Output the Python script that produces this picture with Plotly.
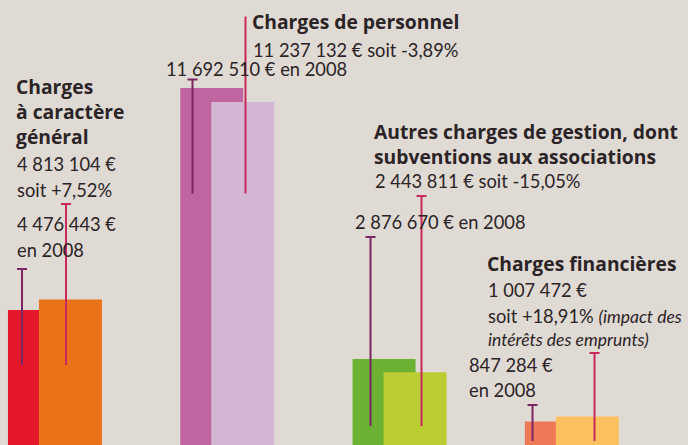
import plotly.graph_objects as go

# ---------------- data ----------------
categories = [
    "Charges à caractère général",
    "Charges de personnel",
    "Autres charges de gestion, dont subventions aux associations",
    "Charges financières",
]
values_2008 = [4476443, 11692510, 2876670, 847284]
values_2009 = [4813104, 11237132, 2443811, 1007472]
variations = ["+7,52%", "-3,89%", "-15,05%", "+18,91%"]

# ---------------- styles ----------------
W, H = 688, 445
BG = "#e0dad4"
TXT = "#2b2427"
colors_2008 = ["#e4172b", "#c0659f", "#6bb232", "#ee7957"]
colors_2009 = ["#ea7219", "#d3b6d4", "#bccd33", "#fcc15e"]
PURPLE = "#7b2563"
CRIMSON = "#c8285c"
FONT = "Lato"
BOLD_FONT = "Open Sans"


def eur(v):
    return f"{v:,}".replace(",", " ") + " €"


fig = go.Figure()
idx = list(range(len(categories)))
fig.add_trace(go.Bar(x=idx, y=values_2008, width=0.3656, offset=-0.2728,
                     marker=dict(color=colors_2008, line=dict(width=0)),
                     name="2008", hoverinfo="skip"))
fig.add_trace(go.Bar(x=idx, y=values_2009, width=0.3656, offset=-0.0929,
                     marker=dict(color=colors_2009, line=dict(width=0)),
                     name="2009", hoverinfo="skip"))


def px(x):
    return x / W


def py(y):
    return 1 - y / H


# leader lines: (x px, top px, bottom px, color, cap)
leaders = [
    (22, 269, 365, PURPLE, True), (66, 204, 365, CRIMSON, True),
    (192.5, 79.5, 193.5, PURPLE, True), (245.5, 16.5, 193.5, CRIMSON, False),
    (370.5, 237, 426, PURPLE, True), (421.5, 196, 426, CRIMSON, True),
    (532.5, 405, 441, PURPLE, True), (594.5, 353, 441, CRIMSON, True),
]
shapes = []
for x, t, b, c, cap in leaders:
    shapes.append(dict(type="line", xref="paper", yref="paper",
                       x0=px(x), x1=px(x), y0=py(t), y1=py(b),
                       line=dict(color=c, width=2)))
    if cap:
        shapes.append(dict(type="line", xref="paper", yref="paper",
                           x0=px(x - 5), x1=px(x + 5), y0=py(t), y1=py(t),
                           line=dict(color=c, width=2)))

annotations = []


def label(x, y, text, size=18.3, weight=400, anchor="left", family=FONT):
    annotations.append(dict(xref="paper", yref="paper", x=px(x), y=py(y),
                            xanchor=anchor, yanchor="middle", showarrow=False,
                            text=text, align=anchor,
                            font=dict(family=family, size=size, color=TXT, weight=weight)))


def title(x, y, text):
    label(x, y, text, 19.3, 700, family=BOLD_FONT)


# group 1
title(14, 111, "Charges<br>à caractère<br>général")
label(15, 164, eur(values_2009[0]))
label(15, 190, "soit " + variations[0])
label(15, 224, eur(values_2008[0]))
label(15, 250, "en 2008")
# group 2
title(250, 22, "Charges de personnel")
label(251, 50, eur(values_2009[1]) + " soit " + variations[1])
label(349, 68.5, eur(values_2008[1]) + " en 2008", anchor="right")
# group 3
title(372, 144, "Autres charges de gestion, dont<br>subventions aux associations")
label(373, 181, eur(values_2009[2]) + " soit " + variations[2])
label(353, 222, eur(values_2008[2]) + " en 2008")
# group 4
title(485, 263, "Charges financières")
label(486, 290, eur(values_2009[3]))
label(486, 316, "soit " + variations[3] +
      " <i><span style='font-size:17.5px'>(impact des</span></i>")
label(486, 339, "<i>intérêts des emprunts)</i>", 17.5)
label(467, 365, eur(values_2008[3]))
label(467, 390, "en 2008")

# baseline at ~447.5 px, 1 px ≈ 32530 €
fig.update_layout(
    width=W, height=H, margin=dict(l=0, r=0, t=0, b=0),
    paper_bgcolor=BG, plot_bgcolor=BG, showlegend=False,
    barmode="overlay",
    xaxis=dict(range=[-0.319, 3.674], visible=False, fixedrange=True),
    yaxis=dict(range=[81300, 14557000], visible=False, fixedrange=True),
    shapes=shapes, annotations=annotations,
)
fig.write_html(
    "out.html",
    config={"displayModeBar": False},
    post_script="document.body.style.margin='0';document.body.style.background='%s';" % BG,
)
